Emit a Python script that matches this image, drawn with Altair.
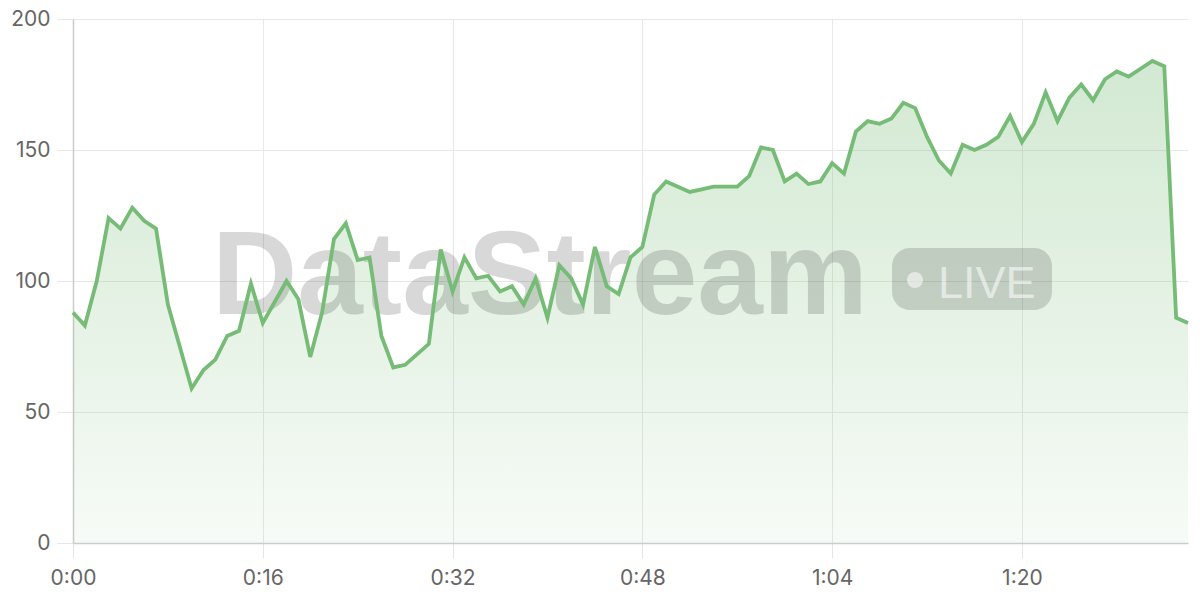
import altair as alt
import pandas as pd

seconds = list(range(95))
values = [88, 83, 100, 124, 120, 128, 123, 120, 91, 75,
          59, 66, 70, 79, 81, 99, 84, 92, 100, 93,
          71, 88, 116, 122, 108, 109, 79, 67, 68, 72,
          76, 112, 96, 109, 101, 102, 96, 98, 91, 101,
          86, 106, 101, 91, 113, 98, 95, 109, 113, 133,
          138, 136, 134, 135, 136, 136, 136, 140, 151, 150,
          138, 141, 137, 138, 145, 141, 157, 161, 160, 162,
          168, 166, 155, 146, 141, 152, 150, 152, 155, 163,
          153, 160, 172, 161, 170, 175, 169, 177, 180, 178,
          181, 184, 182, 86, 84]
x_ticks = [0, 16, 32, 48, 64, 80]
y_ticks = [0, 50, 100, 150, 200]

df = pd.DataFrame({"t": seconds, "v": values})

LINE = "#76bb76"
W, H = 1115, 524

x_enc = alt.X("t:Q", scale=alt.Scale(domain=[0, 94], nice=False, zero=False),
              axis=alt.Axis(values=x_ticks, title=None,
                            labelExpr="floor(datum.value/60) + ':' + (datum.value%60 < 10 ? '0' : '') + (datum.value%60)",
                            grid=True, gridColor="#e8e8e8", tickColor="#e6e6e6",
                            tickSize=15, domainColor="#cccccc", domainWidth=1.5,
                            labelFont="Inter", labelFontSize=21, labelColor="#666666",
                            labelBaseline="middle", labelPadding=20, labelFlush=False))
y_enc = alt.Y("v:Q", scale=alt.Scale(domain=[0, 200], nice=False),
              axis=alt.Axis(values=y_ticks, title=None,
                            grid=True, gridColor="#e8e8e8", tickColor="#e6e6e6",
                            tickSize=16, domainColor="#cccccc", domainWidth=1.5,
                            labelFont="Inter", labelFontSize=21, labelColor="#666666",
                            labelPadding=7))

base = alt.Chart(df)

area = base.mark_area(
    color=alt.Gradient(gradient="linear",
                       stops=[alt.GradientStop(color="rgba(116,186,116,0.32)", offset=0),
                              alt.GradientStop(color="rgba(116,186,116,0.06)", offset=1)],
                       x1=1, x2=1, y1=0, y2=1)
).encode(x=x_enc, y=y_enc)

line = base.mark_line(color=LINE, strokeWidth=3.8, strokeJoin="miter").encode(x="t:Q", y="v:Q")

wm = alt.Chart(pd.DataFrame({"a": [0]}))
wm_text = wm.mark_text(text="DataStream", font="Liberation Sans", fontWeight="bold",
                       fontSize=118, align="left", baseline="alphabetic",
                       color="#000000", opacity=0.15).encode(
    x=alt.value(139), y=alt.value(295))
badge = wm.mark_rect(color="#000000", opacity=0.15, cornerRadius=18).encode(
    x=alt.value(819), x2=alt.value(979), y=alt.value(229), y2=alt.value(291))
dot = wm.mark_point(shape="circle", filled=True, size=254, color="#ffffff", opacity=0.55).encode(
    x=alt.value(842), y=alt.value(261))
live = wm.mark_text(text="LIVE", font="Liberation Sans", fontSize=45, align="left",
                    baseline="alphabetic", color="#ffffff", opacity=0.55).encode(
    x=alt.value(865), y=alt.value(279))

chart = alt.layer(area, wm_text, badge, dot, live, line).properties(
    width=W, height=H,
    padding={"left": 65, "top": 11, "right": 4, "bottom": 48},
    autosize=alt.AutoSizeParams(type="none"),
    background="#ffffff"
).configure_view(strokeWidth=0)

chart.save("out.html", embed_options={"renderer": "svg", "actions": False})
